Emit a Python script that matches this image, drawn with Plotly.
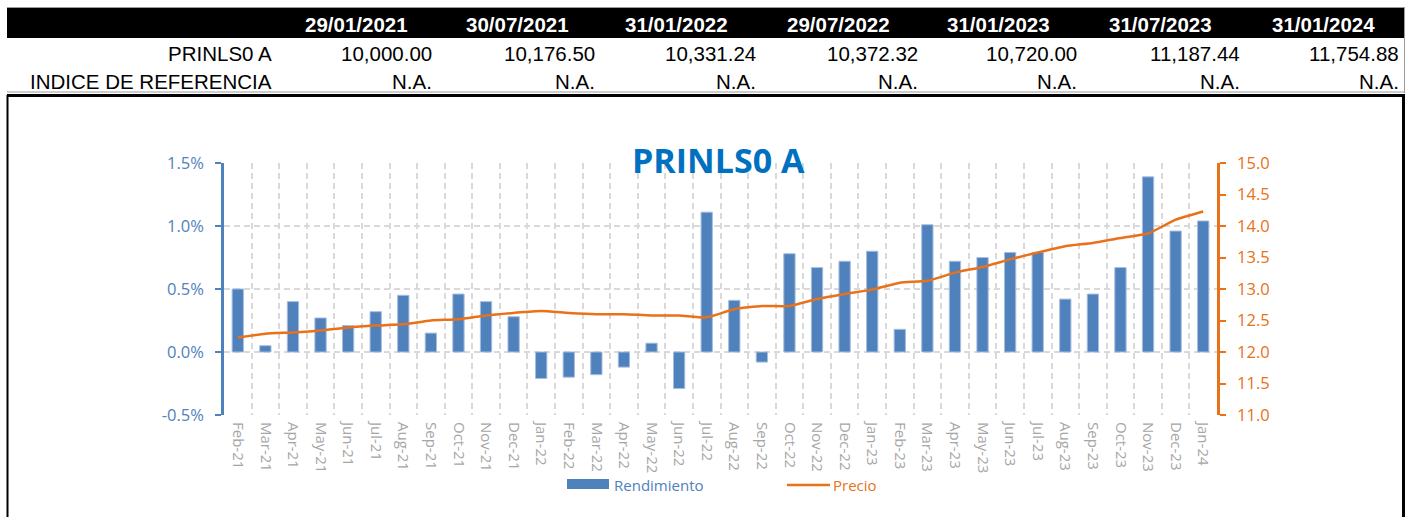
import plotly.graph_objects as go

# ---------------- data ----------------
months = ["Feb-21", "Mar-21", "Apr-21", "May-21", "Jun-21", "Jul-21", "Aug-21", "Sep-21",
          "Oct-21", "Nov-21", "Dec-21", "Jan-22", "Feb-22", "Mar-22", "Apr-22", "May-22",
          "Jun-22", "Jul-22", "Aug-22", "Sep-22", "Oct-22", "Nov-22", "Dec-22", "Jan-23",
          "Feb-23", "Mar-23", "Apr-23", "May-23", "Jun-23", "Jul-23", "Aug-23", "Sep-23",
          "Oct-23", "Nov-23", "Dec-23", "Jan-24"]

rendimiento = [0.50, 0.05, 0.40, 0.27, 0.21, 0.32, 0.45, 0.15,
               0.46, 0.40, 0.28, -0.21, -0.20, -0.18, -0.12, 0.07,
               -0.29, 1.11, 0.41, -0.08, 0.78, 0.67, 0.72, 0.80,
               0.18, 1.01, 0.72, 0.75, 0.79, 0.79, 0.42, 0.46,
               0.67, 1.39, 0.96, 1.04]

precio = [12.23, 12.29, 12.31, 12.34, 12.39, 12.42, 12.44, 12.50,
          12.52, 12.58, 12.62, 12.65, 12.62, 12.60, 12.60, 12.58,
          12.58, 12.55, 12.68, 12.73, 12.73, 12.84, 12.92, 12.99,
          13.10, 13.13, 13.26, 13.35, 13.47, 13.58, 13.68, 13.73,
          13.81, 13.88, 14.10, 14.23]

table_dates = ["29/01/2021", "30/07/2021", "31/01/2022", "29/07/2022",
               "31/01/2023", "31/07/2023", "31/01/2024"]
table_fund = ["10,000.00", "10,176.50", "10,331.24", "10,372.32",
              "10,720.00", "11,187.44", "11,754.88"]
table_index = ["N.A."] * 7
row_labels = ["PRINLS0 A", "INDICE DE REFERENCIA"]

left_ticks = [-0.5, 0.0, 0.5, 1.0, 1.5]
left_ticktext = ["-0.5%", "0.0%", "0.5%", "1.0%", "1.5%"]

# ---------------- styling ----------------
BLUE = "#4F81BD"
ORANGE = "#E97117"
GRID = "#D9D9D9"
TICKGRAY = "#A6A6A6"

FW, FH = 1415, 517
L, R, T, B = 224, 1217, 163, 415
PW, PH = R - L, B - T


def px_x(px):
    return (px - L) / PW


def px_y(py):
    return (B - py) / PH


fig = go.Figure()

fig.add_trace(go.Bar(
    x=months, y=rendimiento, name="Rendimiento",
    marker=dict(color=BLUE, line=dict(color="#A7BEDD", width=1)),
    width=0.41, yaxis="y",
))

fig.add_trace(go.Scatter(
    x=months, y=precio, name="Precio", mode="lines",
    line=dict(color=ORANGE, width=2.5, shape="spline", smoothing=0.5),
    yaxis="y2",
))

shapes = []
annotations = []

# --- table frame ---
shapes.append(dict(type="rect", xref="paper", yref="paper",
                   x0=px_x(7), x1=px_x(1404), y0=px_y(38), y1=px_y(8),
                   fillcolor="black", line=dict(width=0), layer="above"))
shapes.append(dict(type="line", xref="paper", yref="paper",
                   x0=px_x(7), x1=px_x(1405), y0=px_y(7.5), y1=px_y(7.5),
                   line=dict(color="#9A9A9A", width=1)))
shapes.append(dict(type="line", xref="paper", yref="paper",
                   x0=px_x(7), x1=px_x(1405), y0=px_y(92), y1=px_y(92),
                   line=dict(color="#9A9A9A", width=1)))
shapes.append(dict(type="line", xref="paper", yref="paper",
                   x0=px_x(1404.5), x1=px_x(1404.5), y0=px_y(8), y1=px_y(93),
                   line=dict(color="#9A9A9A", width=1)))
shapes.append(dict(type="line", xref="paper", yref="paper",
                   x0=px_x(7), x1=px_x(1405), y0=px_y(95.5), y1=px_y(95.5),
                   line=dict(color="black", width=3)))
shapes.append(dict(type="line", xref="paper", yref="paper",
                   x0=px_x(7.5), x1=px_x(7.5), y0=px_y(95), y1=px_y(520),
                   line=dict(color="black", width=2)))
shapes.append(dict(type="line", xref="paper", yref="paper",
                   x0=px_x(1403.5), x1=px_x(1403.5), y0=px_y(95), y1=px_y(520),
                   line=dict(color="black", width=3)))

TFONT = "Liberation Sans, Arial, sans-serif"
TSIZE = 20.5
date_cx = [356, 517, 676, 838, 998, 1160, 1323]
val_rx = [432, 595, 756, 918, 1077, 1240, 1399]
for d, cx in zip(table_dates, date_cx):
    annotations.append(dict(text="<b>%s</b>" % d, x=px_x(cx), y=px_y(24),
                            xref="paper", yref="paper", showarrow=False,
                            xanchor="center", yanchor="middle",
                            font=dict(family=TFONT, size=TSIZE, color="white")))
for v, rx in zip(table_fund, val_rx):
    annotations.append(dict(text=v, x=px_x(rx + 2), y=px_y(53.5),
                            xref="paper", yref="paper", showarrow=False,
                            xanchor="right", yanchor="middle",
                            font=dict(family=TFONT, size=TSIZE, color="black")))
for v, rx in zip(table_index, val_rx):
    annotations.append(dict(text=v, x=px_x(rx + 2), y=px_y(81),
                            xref="paper", yref="paper", showarrow=False,
                            xanchor="right", yanchor="middle",
                            font=dict(family=TFONT, size=TSIZE, color="black")))
for lab, yy in zip(row_labels, [53.5, 81]):
    annotations.append(dict(text=lab, x=px_x(274), y=px_y(yy),
                            xref="paper", yref="paper", showarrow=False,
                            xanchor="right", yanchor="middle",
                            font=dict(family=TFONT, size=TSIZE, color="black")))

# --- chart title ---
annotations.append(dict(text="<b>PRINLS0 A</b>", x=px_x(718), y=px_y(160),
                        xref="paper", yref="paper", showarrow=False,
                        xanchor="center", yanchor="middle",
                        font=dict(family="Open Sans", size=34, color="#0070C0")))

# --- legend (manual) ---
shapes.append(dict(type="rect", xref="paper", yref="paper",
                   x0=px_x(567), x1=px_x(609), y0=px_y(489), y1=px_y(479),
                   fillcolor=BLUE, line=dict(width=0)))
shapes.append(dict(type="line", xref="paper", yref="paper",
                   x0=px_x(787), x1=px_x(830), y0=px_y(485), y1=px_y(485),
                   line=dict(color=ORANGE, width=2.5)))
annotations.append(dict(text="Rendimiento", x=px_x(612), y=px_y(485),
                        xref="paper", yref="paper", showarrow=False,
                        xanchor="left", yanchor="middle",
                        font=dict(family="Open Sans", size=15, color=BLUE)))
annotations.append(dict(text="Precio", x=px_x(831), y=px_y(485),
                        xref="paper", yref="paper", showarrow=False,
                        xanchor="left", yanchor="middle",
                        font=dict(family="Open Sans", size=15, color=ORANGE)))

fig.update_layout(
    width=FW, height=FH, autosize=False,
    margin=dict(l=L, r=FW - R, t=T, b=FH - B, pad=0),
    paper_bgcolor="white", plot_bgcolor="white",
    showlegend=False, bargap=0.59,
    font=dict(family="Open Sans"),
    xaxis=dict(
        type="category", range=[-0.5, len(months) - 0.5],
        tickson="boundaries", showgrid=True, gridcolor=GRID, gridwidth=1.5,
        griddash="6px,4px", ticks="", showline=False, zeroline=False,
        tickangle=90, tickfont=dict(size=15, color=TICKGRAY, family="Open Sans"),
        ticklabelstandoff=6, automargin=False,
    ),
    yaxis=dict(
        range=[-0.5, 1.5], tickvals=left_ticks, ticktext=left_ticktext,
        showgrid=True, gridcolor=GRID, gridwidth=1.5, griddash="6px,4px",
        zeroline=False, showline=True, linecolor=BLUE, linewidth=2.5,
        ticks="outside", ticklen=6, tickwidth=2, tickcolor=BLUE,
        tickfont=dict(size=16.5, color=BLUE, family="Open Sans"),
        ticklabelstandoff=8, automargin=False,
    ),
    yaxis2=dict(
        range=[11.0, 15.0], dtick=0.5, tick0=11.0, tickformat=".1f",
        overlaying="y", side="right", showgrid=False, zeroline=False,
        showline=True, linecolor=ORANGE, linewidth=2.5,
        ticks="outside", ticklen=6, tickwidth=2, tickcolor=ORANGE,
        tickfont=dict(size=16.5, color=ORANGE, family="Open Sans"),
        ticklabelstandoff=8, automargin=False,
    ),
    shapes=shapes, annotations=annotations,
)

fig.write_html("out.html", config={"displayModeBar": False},
               post_script="document.body.style.margin='0';")
